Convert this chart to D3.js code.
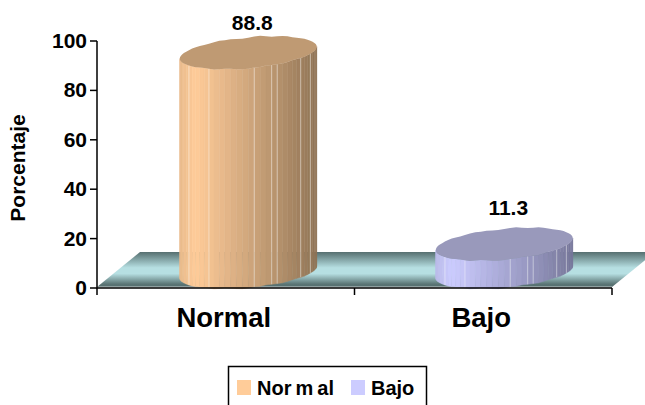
<!DOCTYPE html>
<html><head><meta charset="utf-8">
<script src="https://cdn.jsdelivr.net/npm/d3@7"></script>
<style>html,body{margin:0;background:#fff;overflow:hidden}svg{display:block}text{font-family:"Liberation Sans",Arial,sans-serif;font-weight:bold;fill:#000}</style>
</head><body><svg id="c" width="645" height="405"></svg>
<script>
const categories = ["Normal","Bajo"];
const values = [88.8,11.3];
const yTicks = [0,20,40,60,80,100];
const bodyStops = [["#ffcc99","#8f7355"],["#ccccff","#77779a"]];
const topColors = ["#bf9a73","#9999bb"];
const legendColors = ["#ffcc99","#ccccff"];
const capWobble = [0,.6,.8,.4,-.3,-.6,0,.6,.1,-.6,-.4,.2,.6,.2,-.2,-.5,.1];
const hairlines = [6,11,19,22,23,28,31];
const labelOffsets = [39,45];
const svg=d3.select("#c");
const y=d3.scaleLinear().domain([0,100]).range([288,41]);
const x=d3.scaleBand().domain(categories).range([97,612]);
const defs=svg.append("defs");
const g=defs.append("linearGradient").attr("id","floor").attr("x1",0).attr("x2",0).attr("y1",0).attr("y2",1);
[[0,"#566f70"],[.12,"#6f8d8e"],[.45,"#b6dfe2"],[.62,"#b6dfe2"],[.92,"#5a7474"],[1,"#566f70"]].forEach(s=>g.append("stop").attr("offset",s[0]).attr("stop-color",s[1]));
const depthX=43, depthY=36, floorX1=x.range()[0], floorX2=x.range()[1];
svg.append("path").attr("d",d3.line()([[floorX1,y(0)-1],[floorX1+depthX,y(0)-depthY],[floorX2+depthX,y(0)-depthY],[floorX2,y(0)-1]])+"Z").attr("fill","url(#floor)");
svg.append("line").attr("x1",floorX1).attr("x2",floorX2).attr("y1",y(0)-1).attr("y2",y(0)-1).attr("stroke","#c8d0d0").attr("stroke-width",1);
const a=68.5,tilt=6,b=15.4,centerDx=[22.5,21],baseDy=-16,facets=36;
const pt=(cx,cy,k)=>{const t=k*Math.PI/facets;const w=capWobble[((k%capWobble.length)+capWobble.length)%capWobble.length];
  return [cx+a*Math.cos(t),cy-tilt*Math.cos(t)+b*Math.sin(t)+w*Math.sin(t)*Math.sin(t)];};
categories.forEach((c,i)=>{
  const cx=x(c)+x.bandwidth()/2+centerDx[i], base=y(0)+baseDy, top=y(values[i])+baseDy;
  const col=d3.scaleLinear().domain([0,.1,1]).range([d3.color(bodyStops[i][0]).darker(.25),bodyStops[i][0],bodyStops[i][1]]).interpolate(d3.interpolateRgb);
  const G=svg.append("g");
  d3.range(facets).forEach(k=>{
    const k0=facets-k,k1=facets-k-1;
    const pa=pt(cx,base,k0),pb=pt(cx,base,k1),pc=pt(cx,top,k1),pd=pt(cx,top,k0);
    const f=col((pa[0]-cx+a)/(2*a));
    G.append("path").attr("d",d3.line()([pa,pb,pc,pd])+"Z").attr("fill",f).attr("stroke",f).attr("stroke-width",.5);
    if(hairlines.includes(k)) G.append("line").attr("x1",pa[0]).attr("x2",pd[0]).attr("y1",pa[1]).attr("y2",pd[1]).attr("stroke","#fff").attr("stroke-opacity",.45).attr("stroke-width",1);
  });
  G.append("path").attr("d",d3.line().curve(d3.curveLinearClosed)(d3.range(facets*2).map(k=>pt(cx,top,k)))).attr("fill",topColors[i]);
  svg.append("text").attr("x",cx+4).attr("y",y(values[i])-labelOffsets[i]).attr("text-anchor","middle").attr("font-size",21).text(values[i]);
});
const ax=svg.append("g").attr("stroke","#000").attr("fill","none").attr("stroke-width",1.5);
ax.append("path").attr("d",`M${floorX1},${y(100)}V${y(0)}H${floorX2}`);
yTicks.forEach(v=>{
  ax.append("line").attr("x1",floorX1-7).attr("x2",floorX1).attr("y1",y(v)).attr("y2",y(v));
  svg.append("text").attr("x",87).attr("y",y(v)+7).attr("text-anchor","end").attr("font-size",21).text(v);
});
[0,1,2].forEach(i=>{
  const px=floorX1+i*x.step();
  ax.append("line").attr("x1",px).attr("x2",px).attr("y1",y(0)).attr("y2",y(0)+7);
});
categories.forEach(c=>svg.append("text").attr("x",x(c)+x.bandwidth()/2-2).attr("y",327).attr("text-anchor","middle").attr("font-size",27.5).text(c));
svg.append("text").attr("transform","translate(25,168) rotate(-90)").attr("text-anchor","middle").attr("font-size",21).text("Porcentaje");
svg.append("rect").attr("x",228.5).attr("y",366.5).attr("width",198).attr("height",60).attr("fill","#fff").attr("stroke","#000").attr("stroke-width",1.5);
const lx=[237,351];
const legendDx=["0 0 0 4 4","0"];
categories.forEach((c,i)=>{
  svg.append("rect").attr("x",lx[i]).attr("y",380).attr("width",14).attr("height",15).attr("fill",legendColors[i]);
  svg.append("text").attr("x",lx[i]+20).attr("y",395).attr("dx",legendDx[i]).attr("font-size",20).text(c);
});
</script></body></html>
